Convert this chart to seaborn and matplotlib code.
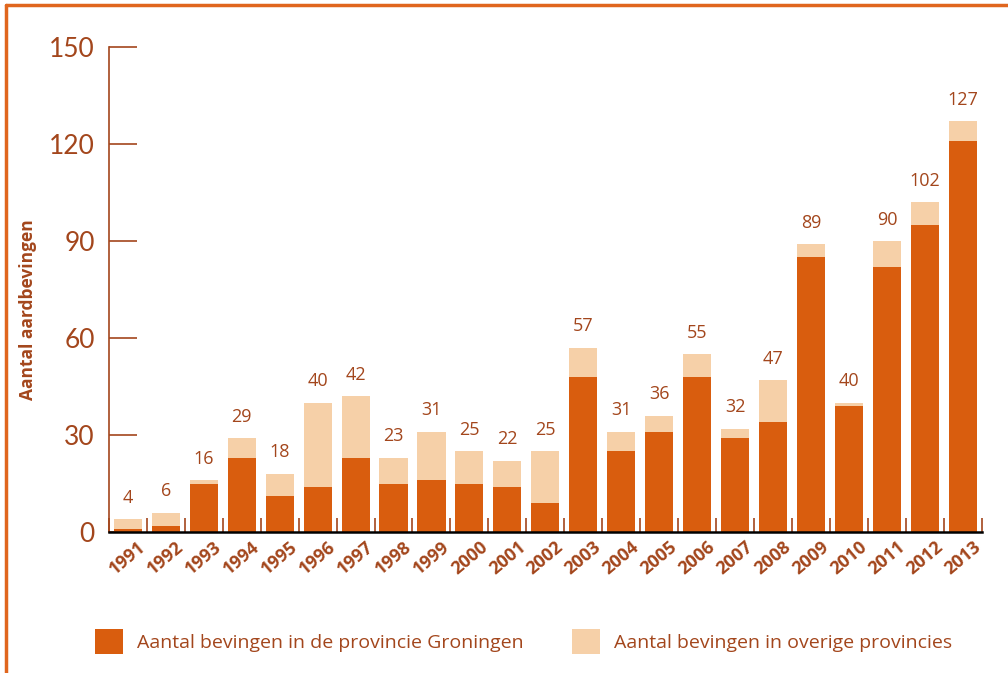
import pandas as pd
import matplotlib.pyplot as plt
import seaborn as sns
from matplotlib.lines import Line2D
from matplotlib.patches import Patch

# data
years = [str(y) for y in range(1991, 2014)]
totaal = [4, 6, 16, 29, 18, 40, 42, 23, 31, 25, 22, 25, 57,
          31, 36, 55, 32, 47, 89, 40, 90, 102, 127]
groningen = [1, 2, 15, 23, 11, 14, 23, 15, 16, 15, 14, 9, 48,
             25, 31, 48, 29, 34, 85, 39, 82, 95, 121]

df = pd.DataFrame({"jaar": years, "totaal": totaal, "groningen": groningen})

dark = "#D95D0E"
light = "#F6D0A8"
brown = "#A3461C"
border = "#E0661E"

sns.set_style("white")
plt.rcParams["font.family"] = ["Open Sans", "DejaVu Sans"]

fig = plt.figure(figsize=(10.08, 6.73), dpi=100)
ax = fig.add_axes([0.108, 0.2095, 0.866, 0.7205])

sns.barplot(data=df, x="jaar", y="totaal", color=light, width=0.74,
            saturation=1, linewidth=0, ax=ax)
sns.barplot(data=df, x="jaar", y="groningen", color=dark, width=0.74,
            saturation=1, linewidth=0, ax=ax)

# totals above bars
for i, v in enumerate(totaal):
    ax.annotate(str(v), (i, v), xytext=(0, 9), textcoords="offset points",
                ha="center", va="bottom", fontsize=13, color=brown)

ax.set_xlim(-0.5, 22.5)
ax.set_ylim(0, 150)
ax.set_yticks([0, 30, 60, 90, 120, 150])
ax.set_yticklabels(["0", "30", "60", "90", "120", "150"], fontsize=19,
                   color=brown, fontfamily="Lato")
ax.tick_params(axis="y", left=True, direction="in", length=20, width=1.2,
               color=brown, pad=10)
ax.set_xlabel("")
ax.set_ylabel("Aantal aardbevingen", fontsize=12.5, fontweight="bold",
              color=brown)
ax.yaxis.set_label_coords(-0.082, 0.458)

ax.set_xticks(range(len(years)))
ax.set_xticklabels(years, rotation=40, ha="center", va="top", fontsize=13,
                   fontweight="bold", color=brown)
ax.tick_params(axis="x", length=0, pad=4)
ax.set_xticks([i - 0.5 for i in range(len(years) + 1)], minor=True)
ax.tick_params(axis="x", which="minor", direction="in", length=10,
               width=1.2, color=brown, bottom=True)

for s in ["top", "right"]:
    ax.spines[s].set_visible(False)
ax.spines["left"].set_color(brown)
ax.spines["left"].set_linewidth(1.2)
ax.spines["bottom"].set_color("black")
ax.spines["bottom"].set_linewidth(1.8)

# legend
handles = [Patch(facecolor=dark, edgecolor="none",
                 label="Aantal bevingen in de provincie Groningen"),
           Patch(facecolor=light, edgecolor="none",
                 label="Aantal bevingen in overige provincies")]
leg = fig.legend(handles=handles, loc="center left",
                 bbox_to_anchor=(0.077, 0.047), ncol=2, frameon=False,
                 fontsize=14, handlelength=1.45, handleheight=1.6,
                 handletextpad=0.7, columnspacing=2.5)
for t in leg.get_texts():
    t.set_color(brown)

# orange frame (top and left)
fig.add_artist(Line2D([0.006, 0.006], [0.0, 0.993], color=border, lw=2.5,
                      transform=fig.transFigure))
fig.add_artist(Line2D([0.006, 1.0], [0.993, 0.993], color=border, lw=2.5,
                      transform=fig.transFigure))

fig.savefig("out.png", dpi=100)
